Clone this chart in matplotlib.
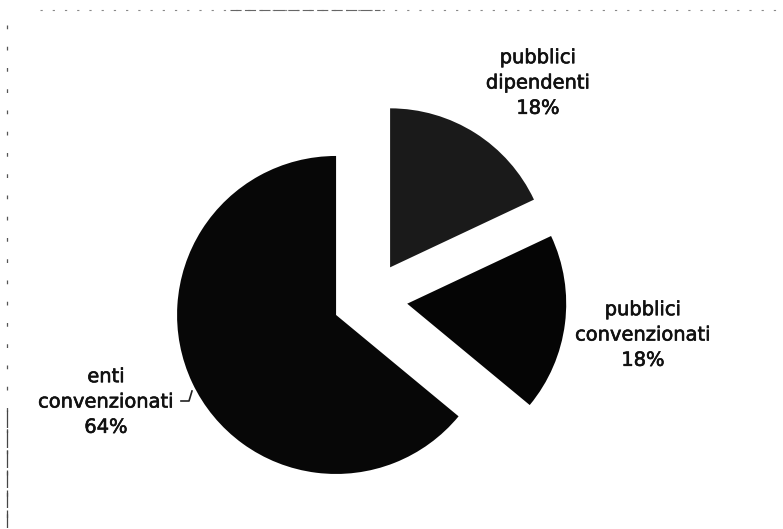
import matplotlib
matplotlib.use("Agg")
import matplotlib.pyplot as plt
import matplotlib.patheffects as pe

# Distribution of the three categories
categories = ["pubblici\ndipendenti", "pubblici\nconvenzionati", "enti\nconvenzionati"]
shares = [18, 18, 64]

W, H = 783, 529
fig = plt.figure(figsize=(W / 100, H / 100), dpi=100)
ax = fig.add_axes([0, 0, 1, 1])

# Pie drawn in pixel-sized data units (y grows upwards)
pie_center = (370, H - 299)
pie_radius = 159
gap = 37.5
slice_colors = ["#1a1a1a", "#050505", "#070707"]

ax.pie(shares, startangle=90, counterclock=False, colors=slice_colors,
       radius=pie_radius, center=pie_center, explode=[gap] * len(shares),
       wedgeprops=dict(linewidth=0))

ax.set_xlim(0, W)
ax.set_ylim(0, H)
ax.set_aspect("equal")
ax.axis("off")

label_xy = [(538, H - 83), (643, H - 335), (106, H - 402)]
for name, val, (lx, ly) in zip(categories, shares, label_xy):
    ax.text(lx, ly, f"{name}\n{val}%", ha="center", va="center",
            multialignment="center", fontsize=14, color="#111111",
            family="DejaVu Sans", linespacing=1.42,
            path_effects=[pe.withStroke(linewidth=0.45, foreground="#111111")])

# small leader hook next to the large slice label
ax.plot([181, 189, 192], [H - 401, H - 401, H - 391], color="#222222", lw=1.2)

# faint frame remnants along top and left edges
ax.plot([40, W], [H - 10, H - 10], color="#888888", lw=0.8,
        linestyle=(0, (2, 9)))
ax.plot([230, 380], [H - 10, H - 10], color="#666666", lw=0.8,
        linestyle=(0, (10, 3)))
ax.plot([7, 7], [H - 25, 0], color="#555555", lw=0.9,
        linestyle=(0, (3, 14)))
ax.plot([7, 7], [H - 410, 0], color="#444444", lw=0.9,
        linestyle=(0, (14, 2)))

fig.savefig("out.png", dpi=100, facecolor="white")
